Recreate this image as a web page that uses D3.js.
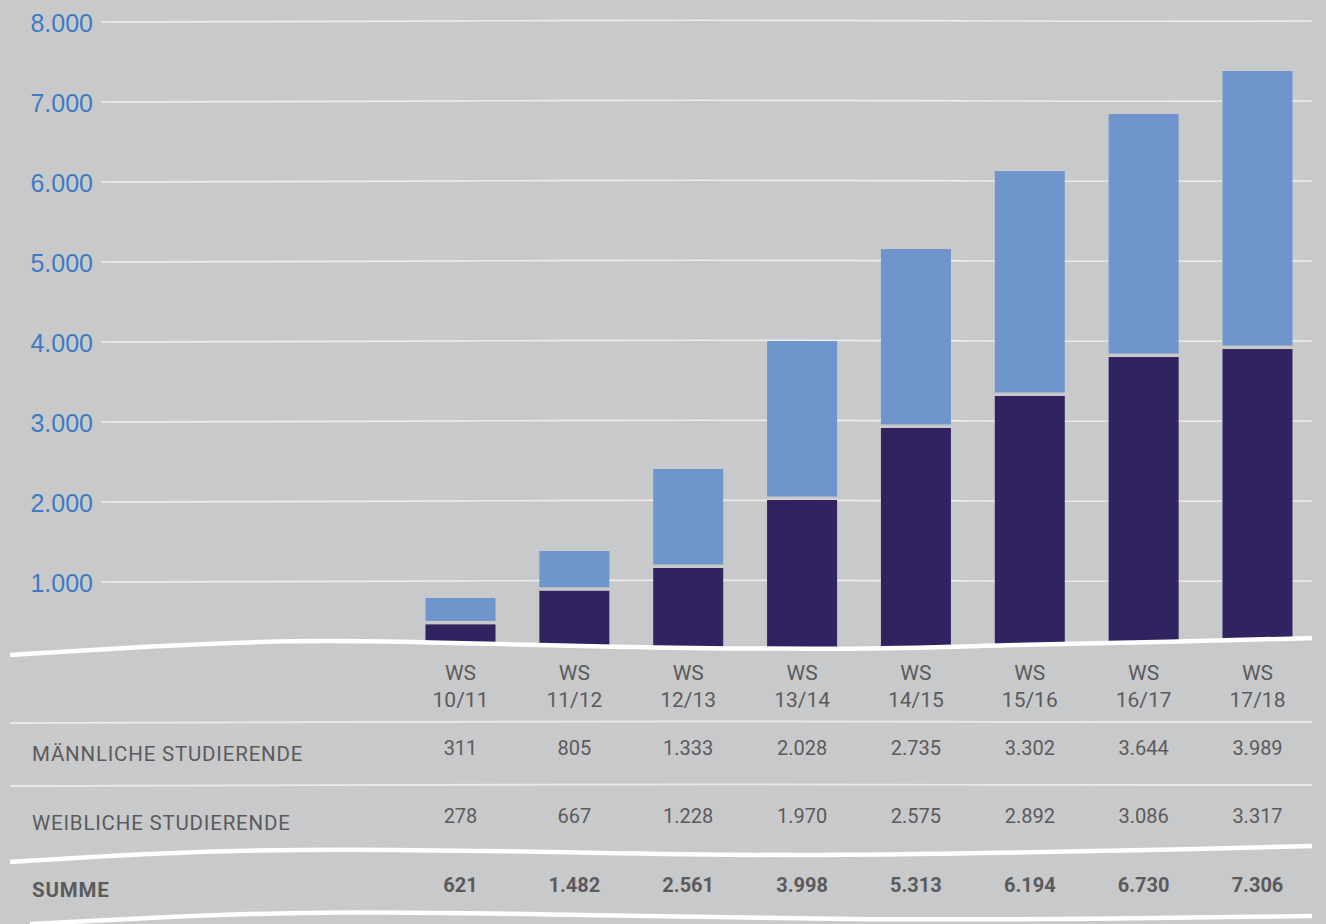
<!DOCTYPE html>
<html>
<head>
<meta charset="utf-8">
<script src="https://cdn.jsdelivr.net/npm/d3@7"></script>
<style>
  html, body { margin: 0; padding: 0; background: #c8c9cb; }
  svg { display: block; font-family: Roboto, "DejaVu Sans", sans-serif; }
</style>
</head>
<body>
<div id="chart"></div>
<script>
// Kategorien (Wintersemester)
const semester = ["10/11", "11/12", "12/13", "13/14", "14/15", "15/16", "16/17", "17/18"];

// Tabellenwerte
const maennlich = [311, 805, 1333, 2028, 2735, 3302, 3644, 3989];
const weiblich = [278, 667, 1228, 1970, 2575, 2892, 3086, 3317];
const summe = [621, 1482, 2561, 3998, 5313, 6194, 6730, 7306];

// Balkenhoehen (dunkel = unten, gesamt = oben)
const balkenUnten = [470, 890, 1175, 2025, 2925, 3325, 3812, 3912];
const balkenGesamt = [800, 1387, 2412, 4012, 5162, 6137, 6850, 7387];

const yTicks = [1000, 2000, 3000, 4000, 5000, 6000, 7000, 8000];
const zeilen = ["MÄNNLICHE STUDIERENDE", "WEIBLICHE STUDIERENDE", "SUMME"];

(() => {
    const width = 1326, height = 924;
    const bg = "#c8c9cb", dark = "#312360", light = "#7095cd";
    const blue = "#3d7cc4", grey = "#5b5b5d";

    const fmt = v => d3.format(",")(v).replace(/,/g, ".");

    const svg = d3.select("#chart").append("svg")
        .attr("width", width).attr("height", height);

    svg.append("rect").attr("width", width).attr("height", height).attr("fill", bg);

    const x = d3.scalePoint().domain(semester).range([460.5, 1257.5]);
    const y = d3.scaleLinear().domain([0, 8000]).range([662, 22]);
    const barW = 70;

    // leicht gewellte Gitterlinien
    const wave = d3.line().curve(d3.curveBasis);
    const gridOffsets = [[101, 0], [350, -0.5], [600, -2], [900, -1.5], [1100, -0.5], [1312, -1]];

    svg.append("g").selectAll("path")
        .data(yTicks)
        .join("path")
        .attr("d", t => wave(gridOffsets.map(([px, dy]) => [px, y(t) + dy])))
        .attr("fill", "none")
        .attr("stroke", "#ebebed")
        .attr("stroke-width", 1.6);

    // Achsenbeschriftung
    const yAxis = svg.append("g")
        .attr("transform", "translate(93,0)")
        .call(d3.axisLeft(y).tickValues(yTicks).tickSize(0).tickPadding(0).tickFormat(fmt));
    yAxis.select(".domain").remove();
    yAxis.selectAll("text")
        .attr("fill", blue)
        .style("font-size", "25px")
        .attr("dy", "0.36em");

    // gestapelte Balken
    const bars = svg.append("g");
    bars.selectAll(".unten")
        .data(semester)
        .join("rect")
        .attr("class", "unten")
        .attr("x", d => x(d) - barW / 2)
        .attr("width", barW)
        .attr("y", (d, i) => y(balkenUnten[i]))
        .attr("height", (d, i) => y(0) - y(balkenUnten[i]))
        .attr("fill", dark);

    bars.selectAll(".oben")
        .data(semester)
        .join("rect")
        .attr("class", "oben")
        .attr("x", d => x(d) - barW / 2)
        .attr("width", barW)
        .attr("y", (d, i) => y(balkenGesamt[i]))
        .attr("height", (d, i) => y(balkenUnten[i]) - y(balkenGesamt[i]) - 3.5)
        .attr("fill", light);

    // Basislinie, darunter wird alles abgedeckt
    const basePts = [[10, 655], [150, 646], [300, 640], [420, 642], [600, 647], [860, 650], [1000, 645], [1175, 642], [1312, 638]];
    const basePath = svg.append("path")
        .attr("d", wave(basePts))
        .attr("fill", "none");
    const node = basePath.node();
    const len = node.getTotalLength();
    const sampled = d3.range(0, len + 3, 3).map(l => {
        const q = node.getPointAtLength(Math.min(l, len));
        return [q.x, q.y + 1];
    });
    const cover = [[0, sampled[0][1]]].concat(sampled,
        [[width, sampled[sampled.length - 1][1]], [width, height], [0, height]]);
    svg.append("path")
        .attr("d", d3.line()(cover) + "Z")
        .attr("fill", bg);

    svg.append("path")
        .attr("d", wave(basePts))
        .attr("fill", "none")
        .attr("stroke", "#ffffff")
        .attr("stroke-width", 4.5);
    basePath.remove();

    // Semester-Beschriftung
    const labels = svg.append("g").attr("fill", grey).style("font-size", "21px")
        .attr("text-anchor", "middle");
    labels.selectAll(".ws").data(semester).join("text")
        .attr("x", d => x(d)).attr("y", 680).text("WS");
    labels.selectAll(".sem").data(semester).join("text")
        .attr("x", d => x(d)).attr("y", 707).text(d => d);

    // Trennlinien der Tabelle
    const thin = [[10, 0], [400, -1], [700, -2], [1000, -1], [1312, -1]];
    [723, 786].forEach(ly => {
        svg.append("path")
            .attr("d", wave(thin.map(([px, dy]) => [px, ly + dy])))
            .attr("fill", "none").attr("stroke", "#e9e9eb").attr("stroke-width", 1.8);
    });

    svg.append("path")
        .attr("d", wave([[10, 862], [150, 853], [330, 848], [600, 853], [800, 856], [1000, 853], [1200, 849], [1312, 846]]))
        .attr("fill", "none").attr("stroke", "#ffffff").attr("stroke-width", 4.5);

    svg.append("path")
        .attr("d", wave([[30, 924], [180, 916], [330, 911], [600, 915], [850, 920], [1100, 919], [1312, 916]]))
        .attr("fill", "none").attr("stroke", "#ffffff").attr("stroke-width", 4.5);

    // Tabellenzeilen
    const rows = [
        { name: zeilen[0], values: maennlich, yl: 761, yv: 755, bold: false },
        { name: zeilen[1], values: weiblich, yl: 830, yv: 823, bold: false },
        { name: zeilen[2], values: summe, yl: 897, yv: 892, bold: true }
    ];

    const table = svg.append("g").attr("fill", grey);
    rows.forEach(r => {
        table.append("text")
            .attr("x", 32).attr("y", r.yl)
            .style("font-size", "20.5px")
            .style("letter-spacing", "0.8px")
            .style("font-weight", r.bold ? 700 : 400)
            .text(r.name);
        table.selectAll(null).data(r.values).join("text")
            .attr("x", (d, i) => x(semester[i]))
            .attr("y", r.yv)
            .attr("text-anchor", "middle")
            .style("font-size", "20px")
            .style("font-weight", r.bold ? 700 : 400)
            .text(d => fmt(d));
    });
})();
</script>
</body>
</html>
